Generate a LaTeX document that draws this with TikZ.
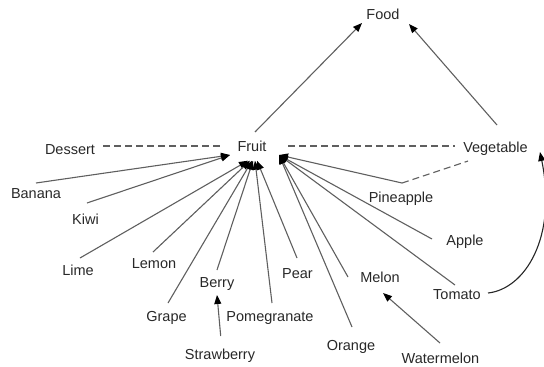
\documentclass[tikz,border=0pt]{standalone}
\usepackage{fontspec}
\setmainfont{Liberation Sans}
\usetikzlibrary{arrows.meta,calc}
\definecolor{txt}{RGB}{40,40,40}
\definecolor{ln}{RGB}{95,95,95}
\begin{document}
\begin{tikzpicture}[x=1pt,y=-1pt,
  lbl/.style={anchor=base,inner sep=0pt,text=txt,font=\fontsize{14.5}{17}\selectfont},
  arr/.style={draw=ln,line width=1.1pt,-{Triangle[length=9pt,width=7pt,color=black]}},
  dashlink/.style={draw=ln,line width=1.1pt,dash pattern=on 7pt off 4pt},
  curvearr/.style={draw=black!85,line width=1.1pt,-{Triangle[length=9pt,width=7pt,color=black]}}]
\useasboundingbox (0,0) rectangle (544,367);
% nodes
\node[lbl] (Food) at (383,19.3) {Food};
\node[lbl] (Fruit) at (252,151.7) {Fruit};
\node[lbl] (Dessert) at (70,154) {Dessert};
\node[lbl] (Veg) at (495.5,152.3) {Vegetable};
\node[lbl] (Banana) at (36,198) {Banana};
\node[lbl] (Kiwi) at (85.5,224) {Kiwi};
\node[lbl] (Lime) at (78,275) {Lime};
\node[lbl] (Lemon) at (154,268) {Lemon};
\node[lbl] (Grape) at (166.5,321) {Grape};
\node[lbl] (Berry) at (217,287) {Berry};
\node[lbl] (Straw) at (220,359) {Strawberry};
\node[lbl] (Pome) at (270,321) {Pomegranate};
\node[lbl] (Pear) at (297.5,278) {Pear};
\node[lbl] (Melon) at (380,282.7) {Melon};
\node[lbl] (Orange) at (351,350) {Orange};
\node[lbl] (Water) at (440.5,363) {Watermelon};
\node[lbl] (Pine) at (401,202.7) {Pineapple};
\node[lbl] (Apple) at (465,245) {Apple};
\node[lbl] (Tomato) at (457,299) {Tomato};
% edges to Food
\draw[arr] ($(Fruit.base)+(3,-19.7)$) -- ($(Food.base)+(-21,3.7)$);
\draw[arr] ($(Veg.base)+(1.5,-27.3)$) -- ($(Food.base)+(26,4.7)$);
% dashed links
\draw[dashlink] ($(Dessert.base)+(33,-8)$) -- ($(Fruit.base)+(-30,-5.7)$);
\draw[dashlink] ($(Fruit.base)+(36,-5.7)$) -- ($(Veg.base)+(-40.5,-6.3)$);
\draw[dashlink] ($(Pine.base)+(1,-19.7)$) -- ($(Veg.base)+(-27.5,8.7)$);
% edges into Fruit, left side
\draw[arr] ($(Banana.base)+(0,-15)$) -- ($(Fruit.base)+(-22,3.3)$);
\draw[arr] ($(Kiwi.base)+(1.5,-21)$) -- ($(Fruit.base)+(-22,3.3)$);
% bottom
\draw[arr] ($(Lime.base)+(2,-17)$) -- ($(Fruit.base)+(-4,9)$);
\draw[arr] ($(Lemon.base)+(-1,-16)$) -- ($(Fruit.base)+(-2,9)$);
\draw[arr] ($(Grape.base)+(1.5,-18)$) -- ($(Fruit.base)+(0,9)$);
\draw[arr] ($(Berry.base)+(0,-17)$) -- ($(Fruit.base)+(1,9)$);
\draw[arr] ($(Pome.base)+(2,-18)$) -- ($(Fruit.base)+(3,9)$);
\draw[arr] ($(Pear.base)+(-0.5,-20)$) -- ($(Fruit.base)+(5,9)$);
% right side
\draw[arr] ($(Orange.base)+(1,-23)$) -- ($(Fruit.base)+(27,3.3)$);
\draw[arr] ($(Melon.base)+(-32,-5.7)$) -- ($(Fruit.base)+(27,3.3)$);
\draw[arr] ($(Tomato.base)+(-2,-14)$) -- ($(Fruit.base)+(27,3.3)$);
\draw[arr] ($(Apple.base)+(-33,-6)$) -- ($(Fruit.base)+(27,3.3)$);
\draw[arr] ($(Pine.base)+(1,-19.7)$) -- ($(Fruit.base)+(27,3.3)$);
% sub-edges
\draw[arr] ($(Straw.base)+(0.7,-23)$) -- ($(Berry.base)+(0,8)$);
\draw[arr] ($(Water.base)+(-0.5,-20)$) -- ($(Melon.base)+(3,10.3)$);
\draw[curvearr] ($(Tomato.base)+(31,-6)$) .. controls ($(Tomato.base)+(68,-10)$) and ($(Veg.base)+(62,85)$) .. ($(Veg.base)+(44.5,-0.3)$);
\end{tikzpicture}
\end{document}
